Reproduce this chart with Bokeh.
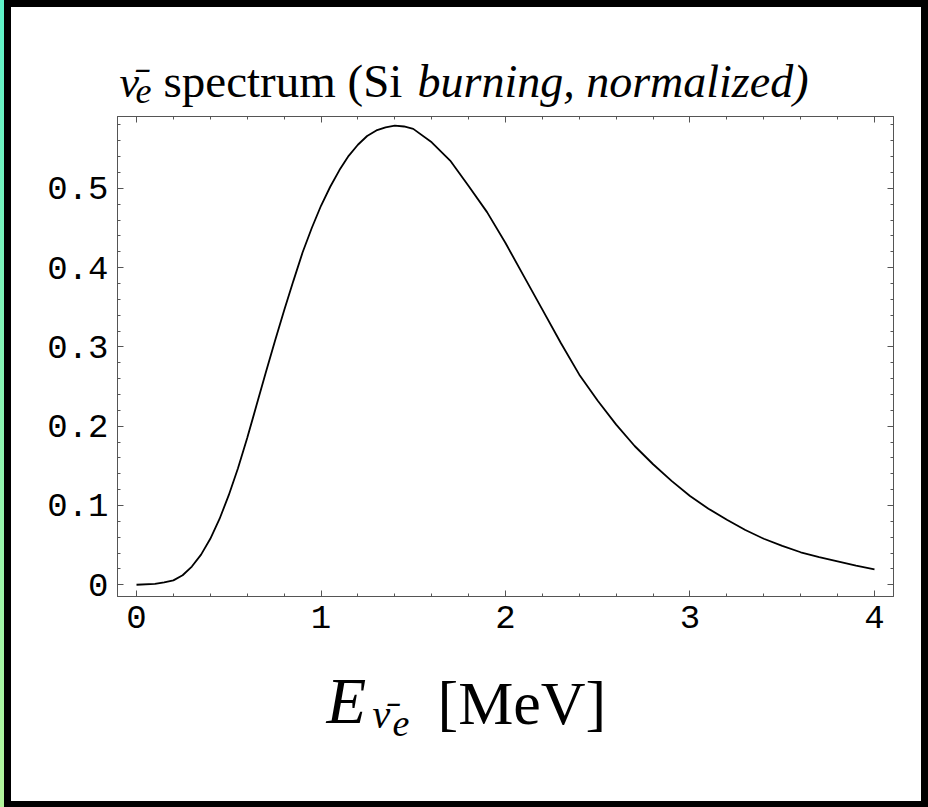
from bokeh.plotting import figure
from bokeh.layouts import column
from bokeh.models import Range1d, FixedTicker, LinearAxis, Label, CustomJSTickFormatter
from bokeh.embed import file_html
from bokeh.resources import INLINE

# ---- data ----
energy = [0.0, 0.1, 0.15, 0.2, 0.25, 0.3, 0.35, 0.4, 0.45, 0.5, 0.55, 0.6, 0.65,
          0.7, 0.75, 0.8, 0.85, 0.9, 0.95, 1.0, 1.05, 1.1, 1.15, 1.2, 1.25, 1.3,
          1.35, 1.4, 1.45, 1.5, 1.6, 1.7, 1.8, 1.9, 2.0, 2.1, 2.2, 2.3, 2.4, 2.5,
          2.6, 2.7, 2.8, 2.9, 3.0, 3.1, 3.2, 3.3, 3.4, 3.5, 3.6, 3.7, 3.8, 3.9,
          4.0]
flux = [0.0, 0.001, 0.003, 0.0055, 0.012, 0.023, 0.038, 0.058, 0.083, 0.113,
        0.147, 0.185, 0.226, 0.267, 0.307, 0.346, 0.383, 0.419, 0.450, 0.478,
        0.502, 0.523, 0.541, 0.555, 0.566, 0.573, 0.577, 0.579, 0.578, 0.575,
        0.558, 0.535, 0.503, 0.470, 0.431, 0.389, 0.347, 0.305, 0.265, 0.232,
        0.202, 0.175, 0.152, 0.131, 0.112, 0.096, 0.082, 0.069, 0.058, 0.049,
        0.041, 0.035, 0.0295, 0.024, 0.0195]

x_ticks = [0, 1, 2, 3, 4]
x_tick_labels = ["0", "1", "2", "3", "4"]
x_minor_ticks = [0.2 * i for i in range(-1, 22)]
y_ticks = [0, 0.1, 0.2, 0.3, 0.4, 0.5]
y_tick_labels = ["0", "0.1", "0.2", "0.3", "0.4", "0.5"]
y_minor_ticks = [0.02 * i for i in range(-1, 30)]

W = 928
TOP_H, MAIN_H, BOT_H = 112, 548, 147          # stacked: 0..112, 112..660, 660..807
FRAME_TOP, FRAME_BOTTOM = 116, 596            # page pixels
FRAME_LEFT, FRAME_RIGHT = 117, 893

SERIF = "Liberation Serif"
TICK_FONT = "Liberation Mono"


def text_strip(height):
    f = figure(width=W, height=height, output_backend="svg", toolbar_location=None,
               x_range=Range1d(0, 1), y_range=Range1d(0, 1),
               x_axis_type=None, y_axis_type=None, min_border=0)
    f.outline_line_color = None
    f.background_fill_color = None
    f.border_fill_color = None
    return f


def lab(f, y0, px, py, text, size, style="normal"):
    # px: page x of the text's left, py: page y of its baseline; y0: strip's page top
    f.add_layout(Label(x=px, y=py - y0 - 0.37 * size, x_units="canvas", y_units="canvas",
                       text=text, text_font=SERIF, text_font_size=f"{size}px",
                       text_font_style=style, text_color="black",
                       text_baseline="alphabetic", text_align="left"))


# ---- title strip ----
top = text_strip(TOP_H)
lab(top, 0, 119, 98, "\u03bd\u0304", 44, "italic")
lab(top, 0, 135, 104, "e", 36, "italic")
lab(top, 0, 163, 98, "spectrum (Si", 47)
lab(top, 0, 417, 98, "burning, normalized)", 46, "italic")

# ---- main plot ----
p = figure(width=W, height=MAIN_H, output_backend="svg", toolbar_location=None,
           x_range=Range1d(-0.103, 4.103), y_range=Range1d(-0.0148, 0.5906),
           x_axis_type=None, y_axis_type=None,
           min_border_left=FRAME_LEFT, min_border_right=W - FRAME_RIGHT,
           min_border_top=FRAME_TOP - TOP_H,
           min_border_bottom=TOP_H + MAIN_H - FRAME_BOTTOM)
p.background_fill_color = "white"
p.border_fill_color = None
p.outline_line_color = "#555555"
p.outline_line_width = 1


def make_axis(ticks, minor, labels):
    ax = LinearAxis(ticker=FixedTicker(ticks=ticks, minor_ticks=minor))
    ax.axis_line_color = "#555555"
    ax.major_tick_line_color = "#555555"
    ax.minor_tick_line_color = "#555555"
    ax.major_tick_in = 6
    ax.major_tick_out = 0
    ax.minor_tick_in = 3
    ax.minor_tick_out = 0
    if labels is None:
        ax.formatter = CustomJSTickFormatter(code="return ''")
        ax.major_label_standoff = 0
        ax.major_label_text_font_size = "1px"
    else:
        ax.major_label_overrides = dict(zip(ticks, labels))
        ax.major_label_text_font = TICK_FONT
        ax.major_label_text_font_size = "34px"
        ax.major_label_text_color = "black"
        ax.major_label_standoff = 9
    return ax


p.add_layout(make_axis(x_ticks, x_minor_ticks, x_tick_labels), "below")
p.add_layout(make_axis(y_ticks, y_minor_ticks, y_tick_labels), "left")
p.add_layout(make_axis(x_ticks, x_minor_ticks, None), "above")
p.add_layout(make_axis(y_ticks, y_minor_ticks, None), "right")

p.line(energy, flux, line_color="black", line_width=1.8)

# ---- x-axis label strip: E_{nu-bar_e} [MeV] ----
bot = text_strip(BOT_H)
Y0 = TOP_H + MAIN_H
lab(bot, Y0, 326, 725, "E", 65, "italic")
lab(bot, Y0, 372, 729, "\u03bd\u0304", 40, "italic")
lab(bot, Y0, 392, 737, "e", 38, "italic")
lab(bot, Y0, 437, 725, "[MeV]", 62)

page = column(top, p, bot, spacing=0)
page.styles = {
    "background": (
        "linear-gradient(#5ef2c9, #b3f59b) 0 0 / 4px 100% no-repeat, "
        "linear-gradient(black, black) 4px 0 / 7px 100% no-repeat, "
        "linear-gradient(black, black) 0 0 / 100% 7px no-repeat, "
        "linear-gradient(black, black) 0 100% / 100% 6px no-repeat, "
        "linear-gradient(black, black) 100% 0 / 7px 100% no-repeat, "
        "white"
    )
}

open("out.html", "w").write(file_html(page, INLINE))
